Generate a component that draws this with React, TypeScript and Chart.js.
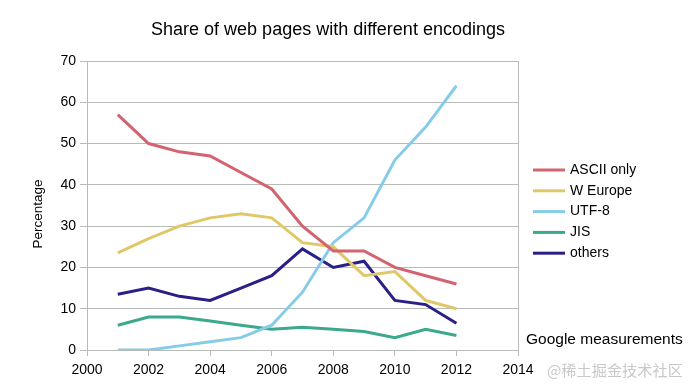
import React, { useEffect, useRef } from "react";
import { Chart, registerables } from "chart.js";

Chart.register(...registerables);

const years = [2001, 2002, 2003, 2004, 2005, 2006, 2007, 2008, 2009, 2010, 2011, 2012];
const seriesNames = ["ASCII only", "W Europe", "UTF-8", "JIS", "others"];
const asciiOnly = [57, 50, 48, 47, 43, 39, 30, 24, 24, 20, 18, 16];
const wEurope = [23.5, 27, 30, 32, 33, 32, 26, 25, 18, 19, 12, 10];
const utf8 = [0, 0, 1, 2, 3, 6, 14, 26, 32, 46, 54, 64];
const jis = [6, 8, 8, 7, 6, 5, 5.5, 5, 4.5, 3, 5, 3.5];
const others = [13.5, 15, 13, 12, 15, 18, 24.5, 20, 21.5, 12, 11, 6.5];
const colors = ["#d3636f", "#e0c868", "#86cce8", "#3ca88c", "#2a1f86"];

const FONT = "'Liberation Sans', Arial, sans-serif";
const GRID = "#b8bcb8";

const overlay = {
  id: "overlay",
  afterDraw(chart: any) {
    const ctx = chart.ctx;
    ctx.save();
    ctx.fillStyle = "#000";
    ctx.textBaseline = "middle";
    ctx.textAlign = "center";
    ctx.font = `18px ${FONT}`;
    ctx.fillText("Share of web pages with different encodings", 328, 30);
    // y-axis title
    ctx.save();
    ctx.translate(38, 214);
    ctx.rotate(-Math.PI / 2);
    ctx.font = `13.5px ${FONT}`;
    ctx.fillText("Percentage", 0, 0);
    ctx.restore();
    // legend
    ctx.textAlign = "left";
    ctx.font = `14px ${FONT}`;
    chart.data.datasets.forEach((ds: any, i: number) => {
      const y = 170 + i * 20.8;
      ctx.strokeStyle = ds.borderColor;
      ctx.lineWidth = 3;
      ctx.beginPath();
      ctx.moveTo(533, y);
      ctx.lineTo(565, y);
      ctx.stroke();
      ctx.fillStyle = "#000";
      ctx.fillText(ds.label, 570, y);
    });
    ctx.font = `15.5px ${FONT}`;
    ctx.fillText("Google measurements", 526, 340);
    ctx.fillStyle = "#c8c8c8";
    ctx.font = `15.2px 'Noto Sans CJK SC', sans-serif`;
    ctx.fillText("@稀土掘金技术社区", 547, 370);
    ctx.restore();
  },
};

export default function App() {
  const ref = useRef<HTMLCanvasElement>(null);
  useEffect(() => {
    document.body.style.margin = "0";
    const data = [asciiOnly, wEurope, utf8, jis, others];
    const chart = new Chart(ref.current!, {
      type: "line",
      data: {
        datasets: seriesNames.map((name, i) => ({
          label: name,
          data: years.map((x, j) => ({ x, y: data[i][j] })),
          borderColor: colors[i],
          backgroundColor: colors[i],
          borderWidth: 3,
          pointRadius: 0,
          tension: 0,
        })),
      },
      options: {
        responsive: false,
        animation: false,
        layout: { padding: { left: 26, top: 61, right: 172, bottom: 0 } },
        plugins: { legend: { display: false }, title: { display: false }, tooltip: { enabled: false } },
        scales: {
          x: {
            type: "linear",
            min: 2000,
            max: 2014,
            ticks: { stepSize: 2, color: "#000", font: { family: FONT, size: 14 }, padding: 6, callback: (v: any) => String(v) },
            grid: {
              color: (c: any) => (c.tick && c.tick.value === 2014 ? GRID : "transparent"),
              tickColor: GRID,
              tickLength: 6,
              lineWidth: 1,
            },
            border: { display: true, color: GRID },
            afterFit: (s: any) => { s.height = 42; },
          },
          y: {
            min: 0,
            max: 70,
            ticks: { stepSize: 10, color: "#000", font: { family: FONT, size: 14 }, padding: 4 },
            grid: { color: GRID, tickColor: GRID, tickLength: 7, lineWidth: 1 },
            border: { display: true, color: GRID },
            afterFit: (s: any) => { s.width = 61; },
          },
        },
      },
      plugins: [overlay],
    });
    return () => chart.destroy();
  }, []);
  return (
    <div style={{ position: "absolute", left: 0, top: 0, width: 690, height: 392, background: "#fff" }}>
      <canvas ref={ref} width={690} height={392} />
    </div>
  );
}
